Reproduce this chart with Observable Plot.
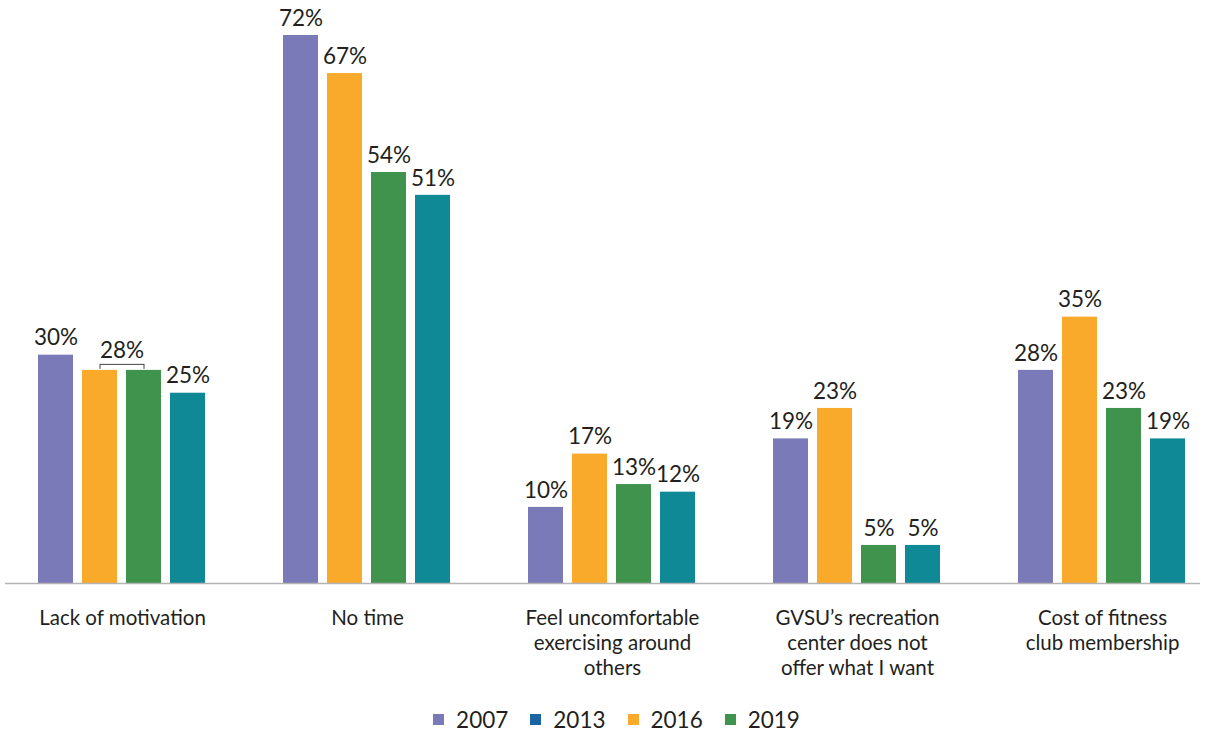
<!DOCTYPE html>
<html>
<head>
<meta charset="utf-8">
<script src="https://cdn.jsdelivr.net/npm/d3@7"></script>
<script src="https://cdn.jsdelivr.net/npm/@observablehq/plot@0.6"></script>
<style>
  html, body { margin: 0; padding: 0; background: #fff; }
  #chart { width: 1207px; font-family: Lato, "Noto Sans", sans-serif; color: #231f20; }
  .legend { display: flex; justify-content: center; align-items: center; height: 49px; font-size: 22.5px; padding-left: 26px; }
  .legend .item { display: flex; align-items: center; margin: 0 11px; }
  .legend .sw { width: 11px; height: 11px; margin-right: 12px; display: inline-block; }
</style>
</head>
<body>
<div id="chart"></div>
<script>
// Categories (keys) and their displayed, wrapped labels
const categories = ["Lack of motivation", "No time", "Feel uncomfortable", "GVSU recreation center", "Cost of fitness club"];
const categoryLabels = [
  "Lack of motivation",
  "No time",
  "Feel uncomfortable\nexercising around\nothers",
  "GVSU’s recreation\ncenter does not\noffer what I want",
  "Cost of fitness\nclub membership"
];

// Bar series (in the order drawn within each group)
const seriesKeys = ["2007", "2016", "2019", "teal"];
const seriesColors = ["#7b7ab9", "#f9aa2b", "#40934d", "#108996"];
const values2007 = [30, 72, 10, 19, 28];
const values2016 = [28, 67, 17, 23, 35];
const values2019 = [28, 54, 13, 5, 23];
const valuesTeal = [25, 51, 12, 5, 19];

// Labels shared by two bars (drawn once with a bracket)
const mergedCategory = ["Lack of motivation"];
const mergedFrom = ["2016"];
const mergedTo = ["2019"];
const mergedValue = [28];

// Legend entries as printed in the chart
const legendLabels = ["2007", "2013", "2016", "2019"];
const legendColors = ["#7b7ab9", "#1b64a3", "#f9aa2b", "#40934d"];

const seriesValues = [values2007, values2016, values2019, valuesTeal];
const rows = [];
categories.forEach((c, i) => {
  seriesKeys.forEach((s, j) => rows.push({category: c, series: s, value: seriesValues[j][i]}));
});
const merged = mergedCategory.map((c, i) => ({category: c, from: mergedFrom[i], to: mergedTo[i], value: mergedValue[i]}));
const isMerged = d => merged.some(m => m.category === d.category && (m.from === d.series || m.to === d.series) && m.value === d.value);
const labelRows = rows.filter(d => !isMerged(d));
const bracketTicks = merged.flatMap(m => [{category: m.category, series: m.from, value: m.value}, {category: m.category, series: m.to, value: m.value}]);
const catLabelData = categories.map((c, i) => ({category: c, label: categoryLabels[i]}));

const font = "Lato, 'Noto Sans', sans-serif";
const ink = "#231f20";

const plot = Plot.plot({
  width: 1207,
  height: 695,
  marginTop: 35,
  marginBottom: 112,
  marginLeft: 36,
  marginRight: 19,
  style: {fontFamily: font, background: "#fff", overflow: "visible"},
  fx: {domain: categories, paddingInner: 0.3075, paddingOuter: 0, axis: null, label: null},
  x: {domain: seriesKeys, paddingInner: 0.2, paddingOuter: 0, axis: null},
  y: {domain: [0, 72], axis: null},
  color: {domain: seriesKeys, range: seriesColors},
  marks: [
    Plot.barY(rows, {fx: "category", x: "series", y: "value", fill: "series"}),
    Plot.text(labelRows, {fx: "category", x: "series", y: "value", text: d => `${d.value}%`, dy: -17, fontSize: 22.5, fill: ink}),
    Plot.link(merged, {fx: "category", x1: "from", x2: "to", y1: "value", y2: "value", dy: -6, stroke: "#444", strokeWidth: 1}),
    Plot.ruleX(bracketTicks, {fx: "category", x: "series", y1: "value", y2: "value", insetTop: -1, insetBottom: 6, stroke: "#444", strokeWidth: 1}),
    Plot.text(merged, {fx: "category", x: d => d.from, y: "value", dx: 22, text: d => `${d.value}%`, dy: -20, fontSize: 22.5, fill: ink}),
    Plot.text(catLabelData, {fx: "category", text: "label", frameAnchor: "bottom", lineAnchor: "top", dy: 23, lineHeight: 1.24, fontSize: 20.5, fill: ink})
  ]
});

document.getElementById("chart").appendChild(plot);

// Baseline spanning the whole chart width, placed with the plot's y scale
const y0 = plot.scale("y").apply(0);
d3.select(plot).append("line")
  .attr("x1", 5).attr("x2", 1200)
  .attr("y1", y0 + 0.5).attr("y2", y0 + 0.5)
  .attr("stroke", "#b3b3b3").attr("stroke-width", 1.5);

// Legend
const legend = d3.select("#chart").append("div").attr("class", "legend");
legendLabels.forEach((l, i) => {
  const item = legend.append("div").attr("class", "item");
  item.append("span").attr("class", "sw").style("background", legendColors[i]);
  item.append("span").text(l);
});
</script>
</body>
</html>
